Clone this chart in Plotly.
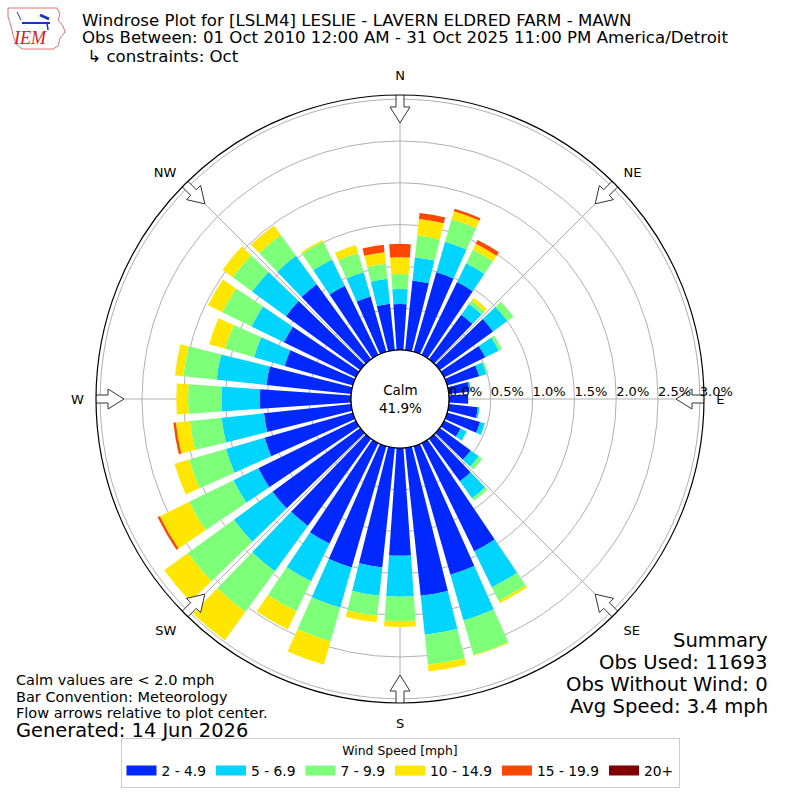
import math
import plotly.graph_objects as go

# wind directions (deg, meteorological) and % of obs per speed bin
directions = list(range(0, 360, 10))
speed_bins = ["2 - 4.9", "5 - 6.9", "7 - 9.9", "10 - 14.9", "15 - 19.9", "20+"]
bin_colors = ["#0028ff", "#00d4ff", "#7dff7a", "#ffe600", "#ff4700", "#800000"]

pct_2_5 = [0.55, 0.84, 0.99, 0.97, 0.66, 0.79, 0.55, 0.40, 0.25, 0.23, 0.35, 0.41,
           0.22, 0.46, 0.63, 1.44, 1.60, 1.78, 1.29, 1.44, 1.51, 1.34, 1.29, 1.30,
           1.30, 1.10, 1.05, 1.09, 1.02, 0.85, 0.96, 1.10, 1.11, 0.92, 0.69, 0.56]
pct_5_7 = [0.18, 0.28, 0.38, 0.25, 0.16, 0.21, 0.18, 0.09, 0.02, 0.00, 0.02, 0.06,
           0.08, 0.12, 0.25, 0.48, 0.57, 0.47, 0.49, 0.34, 0.50, 0.50, 0.67, 0.57,
           0.33, 0.48, 0.51, 0.46, 0.60, 0.38, 0.43, 0.50, 0.42, 0.35, 0.30, 0.30]
pct_7_10 = [0.18, 0.26, 0.28, 0.18, 0.05, 0.09, 0.04, 0.02, 0.00, 0.00, 0.00, 0.00,
            0.01, 0.05, 0.04, 0.18, 0.43, 0.36, 0.29, 0.24, 0.42, 0.40, 0.60, 0.68,
            0.59, 0.46, 0.38, 0.40, 0.40, 0.36, 0.39, 0.29, 0.31, 0.24, 0.24, 0.18]
pct_10_15 = [0.20, 0.20, 0.10, 0.08, 0.04, 0.00, 0.00, 0.00, 0.00, 0.00, 0.00, 0.00,
             0.00, 0.00, 0.00, 0.03, 0.01, 0.08, 0.07, 0.08, 0.29, 0.24, 0.42, 0.35,
             0.39, 0.18, 0.17, 0.14, 0.10, 0.20, 0.19, 0.15, 0.14, 0.02, 0.10, 0.14]
pct_15_20 = [0.16, 0.07, 0.03, 0.05, 0.00, 0.00, 0.00, 0.00, 0.00, 0.00, 0.00, 0.00,
             0.00, 0.00, 0.00, 0.00, 0.00, 0.00, 0.00, 0.00, 0.00, 0.00, 0.00, 0.00,
             0.03, 0.00, 0.03, 0.00, 0.00, 0.00, 0.00, 0.00, 0.00, 0.00, 0.00, 0.09]
pct_20_up = [0.0] * 36

series = [pct_2_5, pct_5_7, pct_7_10, pct_10_15, pct_15_20, pct_20_up]

ring_vals = [0.0, 0.5, 1.0, 1.5, 2.0, 2.5, 3.0]
ring_labels = ["%.1f%%" % v for v in ring_vals]
compass_deg = [0, 45, 90, 135, 180, 225, 270, 315]
compass_txt = ["N", "NE", "E", "SE", "S", "SW", "W", "NW"]

calm_pct = 41.9
summary = ["Summary", "Obs Used: 11693", "Obs Without Wind: 0", "Avg Speed: 3.4 mph"]
notes = ["Calm values are < 2.0 mph", "Bar Convention: Meteorology",
         "Flow arrows relative to plot center."]

FONT = "DejaVu Sans"
R_MAX = 3.05
R_PX = 304.0      # polar radius in px
HOLE_PX = 49.0
PX_PER_UNIT = (R_PX - HOLE_PX) / R_MAX

fig = go.Figure()

for vals, name, col in zip(series, speed_bins, bin_colors):
    fig.add_trace(go.Barpolar(
        r=vals, theta=directions, width=[8] * len(directions), name=name,
        marker=dict(color=col, line=dict(width=0)), hoverinfo="skip",
        showlegend=False,
    ))

# legend entries drawn as wide colour strips
for name, col in zip(speed_bins, bin_colors):
    fig.add_trace(go.Scatterpolar(
        r=[None], theta=[None], mode="lines", name=name,
        line=dict(color=col, width=10), hoverinfo="skip"))

# black edge of the calm circle
fig.add_trace(go.Scatterpolar(
    r=[0] * 361, theta=list(range(361)), mode="lines",
    line=dict(color="black", width=1.2), showlegend=False, hoverinfo="skip"))

# hollow flow arrows pointing to the centre
arrow_shape = [(306, -4), (306, 4), (292, 4), (292, 10), (276, 0),
               (292, -10), (292, -4), (306, -4)]
for ang in compass_deg:
    rr, tt = [], []
    for along, lat in arrow_shape:
        rp = math.hypot(along, lat)
        rr.append((rp - HOLE_PX) / PX_PER_UNIT)
        tt.append(ang + math.degrees(math.atan2(lat, along)))
    fig.add_trace(go.Scatterpolar(
        r=rr, theta=tt, mode="lines", fill="toself", fillcolor="white",
        line=dict(color="#333333", width=1), cliponaxis=False,
        showlegend=False, hoverinfo="skip"))

# radial tick labels along the east spoke
fig.add_trace(go.Scatterpolar(
    r=ring_vals, theta=[90] * len(ring_vals), mode="text", text=ring_labels,
    textposition="top right", textfont=dict(family=FONT, size=13, color="black"),
    cliponaxis=False, showlegend=False, hoverinfo="skip"))

fig.update_layout(
    width=800, height=800,
    margin=dict(l=0, r=0, t=0, b=0),
    paper_bgcolor="white",
    font=dict(family=FONT, color="black"),
    polar=dict(
        domain=dict(x=[0.12, 0.88], y=[0.12125, 0.88125]),
        hole=HOLE_PX / R_PX,
        bgcolor="white",
        barmode="stack",
        radialaxis=dict(range=[0, R_MAX], tickvals=ring_vals, showticklabels=False,
                        ticks="", showline=False, gridcolor="#b0b0b0", gridwidth=1,
                        layer="above traces"),
        angularaxis=dict(rotation=90, direction="clockwise", tickvals=compass_deg,
                         ticktext=compass_txt, ticks="outside", ticklen=9,
                         tickcolor="rgba(0,0,0,0)", showline=True,
                         linecolor="black", linewidth=1.2, gridcolor="#b0b0b0",
                         gridwidth=1, layer="above traces",
                         tickfont=dict(family=FONT, size=13)),
    ),
    legend=dict(orientation="h", x=0.5, xanchor="center", y=0.015, yanchor="bottom",
                bordercolor="#cccccc", borderwidth=1, font=dict(family=FONT, size=13.8),
                title=dict(text="Wind Speed [mph]", side="top center",
                           font=dict(family=FONT, size=12.4)),
                traceorder="normal", itemwidth=30),
)

def py(px):
    return 1 - px / 800.0

ann = []
titles = ["Windrose Plot for [LSLM4] LESLIE - LAVERN ELDRED FARM - MAWN",
          "Obs Between: 01 Oct 2010 12:00 AM - 31 Oct 2025 11:00 PM America/Detroit",
          " \u21b3 constraints: Oct"]
for i, t in enumerate(titles):
    ann.append(dict(text=t, x=80 / 800, y=py(20 + i * 18), xanchor="left", yanchor="middle",
                    font=dict(size=16.6)))
ann.append(dict(text="Calm<br>%.1f%%" % calm_pct, x=0.5, y=py(399), xanchor="center",
                yanchor="middle", font=dict(size=13.5)))
for i, t in enumerate(notes):
    ann.append(dict(text=t, x=14 / 800, y=py(680 + i * 16.5), xanchor="left",
                    yanchor="middle", font=dict(size=14.5)))
ann.append(dict(text="Generated: 14 Jun 2026", x=14 / 800, y=py(730), xanchor="left",
                yanchor="middle", font=dict(size=19.4)))
for i, t in enumerate(summary):
    ann.append(dict(text=t, x=770 / 800, y=py(640 + i * 22), xanchor="right",
                    yanchor="middle", font=dict(size=19.6)))
ann.append(dict(text="<i>IEM</i>", x=30 / 800, y=py(38), xanchor="center", yanchor="middle",
                font=dict(family="Liberation Serif", size=18, color="#d42020")))
for a in ann:
    a.update(xref="paper", yref="paper", showarrow=False)
fig.update_layout(annotations=ann)

# small IEM logo outline
iowa = [(8, 8), (57, 8), (60, 14), (58, 20), (63, 26), (65, 32), (60, 38), (58, 46),
        (53, 49), (22, 49), (16, 44), (13, 35), (11, 26), (8, 17)]
path = "M " + " L ".join("%.4f,%.4f" % (x / 800, py(y)) for x, y in iowa) + " Z"
fig.add_shape(type="path", path=path, xref="paper", yref="paper",
              line=dict(color="#e07070", width=1))
fig.add_shape(type="line", xref="paper", yref="paper", x0=22 / 800, x1=50 / 800,
              y0=py(23), y1=py(23), line=dict(color="#1a2fd0", width=2))
fig.add_shape(type="line", xref="paper", yref="paper", x0=40 / 800, x1=49 / 800,
              y0=py(15), y1=py(19), line=dict(color="#1a2fd0", width=3))
fig.add_shape(type="line", xref="paper", yref="paper", x0=17 / 800, x1=21 / 800,
              y0=py(12), y1=py(20), line=dict(color="#1a2fd0", width=1))
fig.add_shape(type="line", xref="paper", yref="paper", x0=47 / 800, x1=48 / 800,
              y0=py(23), y1=py(30), line=dict(color="#1a2fd0", width=1.5))

fig.write_html("out.html", config={"displayModeBar": False},
               post_script="document.body.style.margin='0px';")
